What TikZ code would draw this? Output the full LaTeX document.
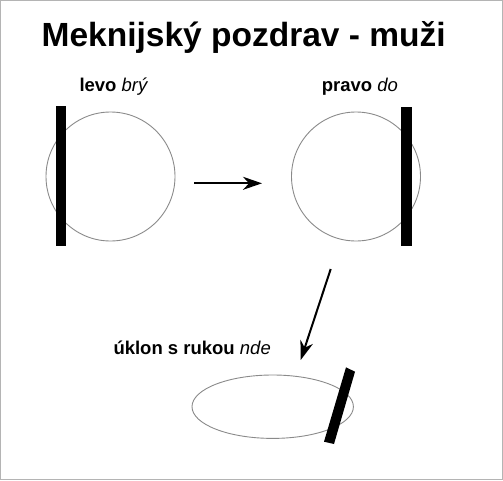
\documentclass[tikz,border=0pt]{standalone}
\usepackage{fontspec}
\setmainfont{Liberation Sans}
\usetikzlibrary{arrows.meta}
\definecolor{ringgray}{HTML}{8A8A8A}
\definecolor{framegray}{HTML}{B4B4B4}
\tikzset{
  ring/.style={draw=ringgray, line width=0.9pt, circle, minimum size=129pt, inner sep=0pt},
  bar/.style={fill=black, draw=none},
  lbl/.style={anchor=base west, inner sep=0pt, font=\fontsize{18.5pt}{20pt}\selectfont},
  bigarrow/.style={line width=2pt, -{Stealth[length=19pt,width=13pt,inset=6pt]}},
}
\begin{document}
\begin{tikzpicture}[x=1pt,y=-1pt]
\useasboundingbox (0,0) rectangle (503,480);
\draw[framegray, line width=1pt] (0.5,0.5) rectangle (502,479.5);

\node[anchor=base west, inner sep=0pt, font=\fontsize{33.5pt}{36pt}\selectfont\bfseries] (title) at (41.5,46.7) {Meknijský pozdrav - muži};

\node[lbl] (l1) at (79.3,91.7) {\textbf{levo} \textit{brý}};
\node[lbl] (l2) at (321.7,91.7) {\textbf{pravo} \textit{do}};
\node[lbl] (l3) at (113.3,354) {\textbf{úklon s rukou} \textit{nde}};

\node[ring] (c1) at (110.5,176.5) {};
\fill[bar] (56.3,106) rectangle (66.3,245.7);

\node[ring] (c2) at (356,176.5) {};
\fill[bar] (401.3,107) rectangle (412.3,246);

\draw[ringgray, line width=0.9pt] (272.7,406.7) ellipse [x radius=80.7, y radius=31.7];
\fill[bar] (355,371.7) -- (346,367.3) -- (324,441.7) -- (334,444) -- cycle;

\coordinate (a1s) at (194,183.3);
\coordinate (a1e) at (262,183.3);
\coordinate (a2s) at (330.7,269);
\coordinate (a2e) at (300.7,360);
\draw[bigarrow] (a1s) -- (a1e);
\draw[bigarrow] (a2s) -- (a2e);
\end{tikzpicture}
\end{document}
